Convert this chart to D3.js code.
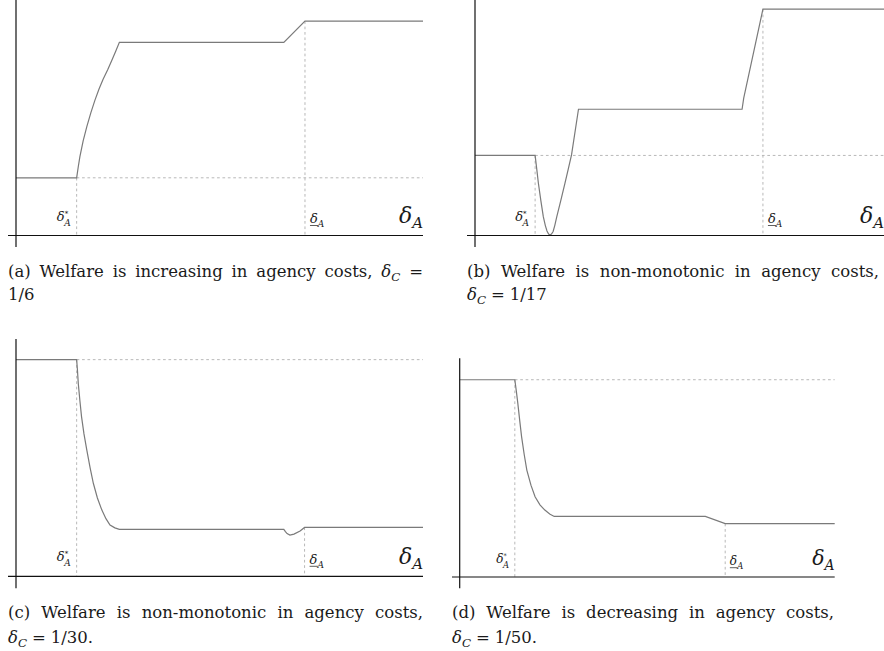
<!DOCTYPE html>
<meta charset="utf-8">
<script src="https://d3js.org/d3.v7.min.js"></script>
<style>
  body { margin: 0; background: #fff; }
</style>
<div id="chart"></div>
<script>

// welfare curves, x = delta_A as share of the axis, y = welfare as share of the axis height
var xA = [0, 0.149, 0.153, 0.157, 0.165, 0.174, 0.184, 0.194, 0.204, 0.214, 0.225, 0.235, 0.245, 0.254, 0.658, 0.710, 1];
var yA = [0.245, 0.245, 0.292, 0.335, 0.402, 0.462, 0.522, 0.575, 0.622, 0.663, 0.703, 0.742, 0.782, 0.820, 0.820, 0.910, 0.910];

var xB = [0, 0.147, 0.151, 0.155, 0.161, 0.167, 0.172, 0.176, 0.180, 0.183, 0.187, 0.191, 0.195, 0.200, 0.210, 0.220, 0.228, 0.236, 0.253, 0.653, 0.657, 0.704, 1];
var yB = [0.340, 0.340, 0.282, 0.222, 0.148, 0.080, 0.042, 0.019, 0.006, 0.002, 0.006, 0.017, 0.042, 0.080, 0.150, 0.222, 0.282, 0.342, 0.536, 0.536, 0.583, 0.961, 0.961];

var xC = [0, 0.149, 0.151, 0.153, 0.157, 0.161, 0.167, 0.174, 0.182, 0.190, 0.200, 0.211, 0.221, 0.231, 0.243, 0.254, 0.658, 0.662, 0.666, 0.673, 0.683, 0.698, 0.709, 1];
var yC = [0.913, 0.913, 0.868, 0.813, 0.740, 0.673, 0.600, 0.532, 0.458, 0.392, 0.330, 0.279, 0.243, 0.216, 0.204, 0.198, 0.198, 0.188, 0.180, 0.174, 0.178, 0.191, 0.206, 0.206];

var xD = [0, 0.147, 0.151, 0.155, 0.160, 0.165, 0.172, 0.179, 0.190, 0.201, 0.214, 0.227, 0.240, 0.252, 0.655, 0.708, 1];
var yD = [0.902, 0.902, 0.850, 0.794, 0.716, 0.642, 0.560, 0.489, 0.420, 0.367, 0.330, 0.306, 0.288, 0.277, 0.277, 0.244, 0.244];

// thresholds delta*_A and underline delta_A
var deltaStar = [0.149, 0.147, 0.149, 0.147];
var deltaUnder = [0.710, 0.704, 0.709, 0.708];

// captions, first line is justified
var captionLine1 = [
  "(a) Welfare is increasing in agency costs, δ_C =",
  "(b) Welfare is non-monotonic in agency costs,",
  "(c) Welfare is non-monotonic in agency costs,",
  "(d) Welfare is decreasing in agency costs,"
];
var captionLine2 = ["1/6", "δ_C = 1/17", "δ_C = 1/30.", "δ_C = 1/50."];

var xs = [xA, xB, xC, xD];
var ys = [yA, yB, yC, yD];

// where each panel sits on the page
var frames = [
  {left: 16,    right: 423,   base: 235.5, top: 0,     axTop: -2,    axBot: 247,   axLeft: 8,   capL: 8,   capR: 423, cap1: 277, cap2: 300, k: 1},
  {left: 475,   right: 884,   base: 235.5, top: 0,     axTop: -2,    axBot: 247,   axLeft: 467, capL: 467, capR: 879, cap1: 277, cap2: 300, k: 1},
  {left: 16,    right: 423,   base: 576.3, top: 339,   axTop: 339,   axBot: 588.3, axLeft: 8,   capL: 8,   capR: 423, cap1: 618, cap2: 643, k: 1},
  {left: 459.7, right: 834.7, base: 577,   top: 358.3, axTop: 358.3, axBot: 588.3, axLeft: 452, capL: 452, capR: 834, cap1: 618, cap2: 643, k: 0.93}
];

var serif = "DejaVu Serif";

var svg = d3.select("#chart")
  .append("svg")
    .attr("width", 884)
    .attr("height", 651)
    .style("font-family", serif);

var capSize = 16.5;
var ink = "#1a1a1a";

// a word of the caption; "δ_C" becomes italic delta with subscript
function addWord(g, word) {
  var t = g.append("text").attr("font-size", capSize).style("font-family", serif).attr("fill", ink);
  var parts = word.split(/(δ_[A-Z])/);
  var down = false;
  parts.forEach(function(p) {
    if (p === "") return;
    if (p.indexOf("δ_") === 0) {
      t.append("tspan").attr("font-style", "italic").text("δ");
      t.append("tspan").attr("font-style", "italic").attr("font-size", capSize * 0.72).attr("dy", 4).text(p.slice(2));
      down = true;
    } else {
      t.append("tspan").attr("dy", down ? -4 : null).text(p);
      down = false;
    }
  });
  return t;
}

function addLine(str, x0, x1, yb, justify) {
  var g = svg.append("g");
  var words = str.split(" ");
  var nodes = words.map(function(w) { return addWord(g, w); });
  var widths = nodes.map(function(n) { return n.node().getComputedTextLength(); });
  var total = d3.sum(widths);
  var gap = justify && words.length > 1 ? (x1 - x0 - total) / (words.length - 1) : capSize * 0.3;
  var x = x0;
  nodes.forEach(function(n, i) {
    n.attr("x", x).attr("y", yb);
    x += widths[i] + gap;
  });
}

frames.forEach(function(f, i) {
  var x = d3.scaleLinear().domain([0, 1]).range([f.left, f.right]);
  var y = d3.scaleLinear().domain([0, 1]).range([f.base, f.top]);
  var pts = d3.zip(xs[i], ys[i]);
  var g = svg.append("g");

  var startLevel = ys[i][0];
  var underLevel = ys[i][xs[i].indexOf(deltaUnder[i])];

  // dotted guides
  var guides = [
    [[deltaStar[i], startLevel], [1, startLevel]],
    [[deltaStar[i], startLevel], [deltaStar[i], 0]],
    [[deltaUnder[i], underLevel], [deltaUnder[i], 0]]
  ];
  g.selectAll(".guide")
    .data(guides)
    .enter()
    .append("line")
      .attr("x1", function(d) { return x(d[0][0]); })
      .attr("y1", function(d) { return y(d[0][1]); })
      .attr("x2", function(d) { return x(d[1][0]); })
      .attr("y2", function(d) { return y(d[1][1]); })
      .attr("stroke", "#b8b8b8")
      .attr("stroke-width", 1)
      .attr("stroke-dasharray", "2.7,2.7");

  // welfare curve
  g.append("path")
    .datum(pts)
    .attr("d", d3.line().x(function(d) { return x(d[0]); }).y(function(d) { return y(d[1]); }))
    .attr("fill", "none")
    .attr("stroke", "#7a7a7a")
    .attr("stroke-width", 1.2);

  // axes
  g.append("line")
    .attr("x1", f.axLeft).attr("x2", f.right)
    .attr("y1", f.base).attr("y2", f.base)
    .attr("stroke", "#111").attr("stroke-width", 1.2);
  g.append("line")
    .attr("x1", f.left).attr("x2", f.left)
    .attr("y1", f.axTop).attr("y2", f.axBot)
    .attr("stroke", "#111").attr("stroke-width", 1.2);

  var k = f.k;

  // delta*_A label, right aligned against the dotted line
  var ls = g.append("text").style("font-family", serif).attr("fill", ink);
  ls.append("tspan").attr("font-style", "italic").attr("font-size", 13 * k).text("δ");
  ls.append("tspan").attr("font-size", 7 * k).attr("dy", -5 * k).text("*");
  ls.append("tspan").attr("font-style", "italic").attr("font-size", 9 * k).attr("dx", -4 * k).attr("dy", 10 * k).text("A");
  var lw = ls.node().getComputedTextLength();
  ls.attr("x", x(deltaStar[i]) - 2 - lw).attr("y", f.base - 15 * k);

  // underlined delta_A label
  var lu = g.append("text").style("font-family", serif).attr("fill", ink);
  var dTs = lu.append("tspan").attr("font-style", "italic").attr("font-size", 13 * k).text("δ");
  lu.append("tspan").attr("font-style", "italic").attr("font-size", 9 * k).attr("dy", 4 * k).text("A");
  var ux = x(deltaUnder[i]) + 5 * k;
  lu.attr("x", ux).attr("y", f.base - 12.5 * k);
  var dw2 = dTs.node().getComputedTextLength();
  g.append("line").attr("x1", ux).attr("x2", ux + dw2 + 0.5)
    .attr("y1", f.base - 10 * k).attr("y2", f.base - 10 * k)
    .attr("stroke", ink).attr("stroke-width", 0.7);

  // axis title delta_A
  var lt = g.append("text").style("font-family", serif).attr("fill", ink);
  lt.append("tspan").attr("font-style", "italic").attr("font-size", 22 * k).text("δ");
  lt.append("tspan").attr("font-style", "italic").attr("font-size", 15 * k).attr("dy", 5 * k).text("A");
  var tw = lt.node().getComputedTextLength();
  lt.attr("x", f.right - tw).attr("y", f.base - 12.5 * k);

  // caption
  addLine(captionLine1[i], f.capL, f.capR, f.cap1, true);
  addLine(captionLine2[i], f.capL, f.capR, f.cap2, false);
});

</script>
